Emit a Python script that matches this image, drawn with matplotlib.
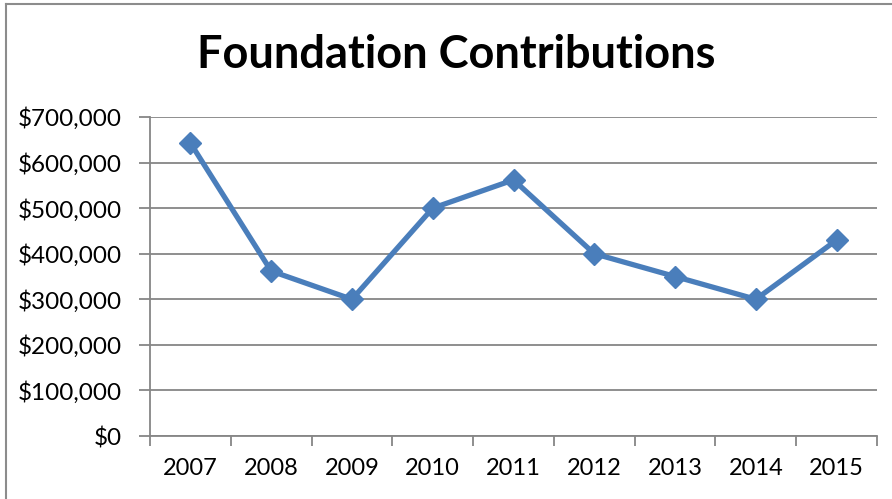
import matplotlib
matplotlib.use("Agg")
import matplotlib.pyplot as plt
from matplotlib.lines import Line2D
import numpy as np

years = ["2007", "2008", "2009", "2010", "2011", "2012", "2013", "2014", "2015"]
contributions = [643000, 362000, 300000, 500000, 562000, 400000, 350000, 300000, 430000]
y_ticks = [0, 100000, 200000, 300000, 400000, 500000, 600000, 700000]
title = "Foundation Contributions"

plt.rcParams['font.family'] = ['Lato', 'DejaVu Sans']

W, H = 892, 499
fig = plt.figure(figsize=(W / 100, H / 100), dpi=100)
ax = fig.add_axes([150 / W, 1 - 436 / H, (877 - 150) / W, (436 - 117) / H])

grid_c = "#868686"
line_c = "#4A7EBB"

x = np.arange(len(years))
ax.plot(x, contributions, color=line_c, lw=3.8, marker="D", markersize=11,
        markerfacecolor=line_c, markeredgecolor=line_c, solid_joinstyle="miter", zorder=3)

ax.set_xlim(-0.5, len(years) - 0.5)
ax.set_ylim(0, 700000)
ax.set_yticks(y_ticks)
ax.set_yticklabels(["${:,.0f}".format(v) for v in y_ticks], fontsize=17.5)
ax.yaxis.grid(True, color=grid_c, lw=1.3)
ax.set_axisbelow(True)

ax.set_xticks(np.arange(-0.5, len(years), 1.0))
ax.set_xticklabels([])
ax.set_xticks(x, minor=True)
ax.set_xticklabels(years, minor=True, fontsize=17)
ax.tick_params(axis="x", which="major", length=7, width=1.3, color=grid_c, direction="out")
ax.tick_params(axis="x", which="minor", length=0, pad=16)
ax.tick_params(axis="y", length=8, width=1.3, color=grid_c, pad=12)

for s in ["top", "right"]:
    ax.spines[s].set_visible(False)
for s in ["left", "bottom"]:
    ax.spines[s].set_color(grid_c)
    ax.spines[s].set_linewidth(1.3)

fig.text(456 / W, 1 - 55 / H, title, ha="center", va="center", fontsize=32.5, fontweight="bold")

# chart border (partially cropped)
fig.add_artist(Line2D([6 / W, 6 / W], [0, 1 - 4 / H], color="#8c8c8c", lw=1.5, transform=fig.transFigure))
fig.add_artist(Line2D([6 / W, 1], [1 - 4 / H, 1 - 4 / H], color="#8c8c8c", lw=1.5, transform=fig.transFigure))

fig.savefig("out.png", dpi=100)
